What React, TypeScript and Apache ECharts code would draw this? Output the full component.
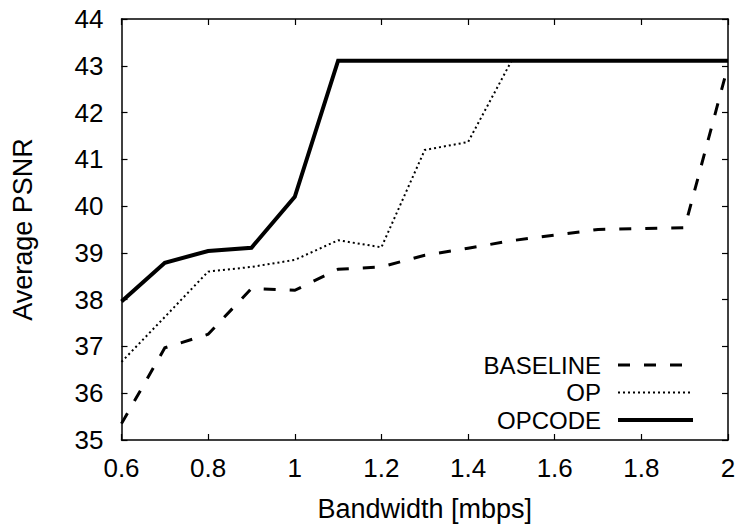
import React, { useEffect, useRef } from "react";
import * as echarts from "echarts";

const bandwidth = [0.6, 0.7, 0.8, 0.9, 1.0, 1.1, 1.2, 1.3, 1.4, 1.5, 1.6, 1.7, 1.8, 1.9, 2.0];
const baseline = [35.35, 36.97, 37.26, 38.24, 38.2, 38.65, 38.7, 38.95, 39.1, 39.26, 39.38, 39.5, 39.52, 39.54, 43.0];
const op = [36.67, 37.63, 38.6, 38.7, 38.85, 39.27, 39.12, 41.2, 41.37, 43.1, 43.1, 43.1, 43.1, 43.1, 43.1];
const opcode = [37.96, 38.79, 39.04, 39.11, 40.2, 43.11, 43.11, 43.11, 43.11, 43.11, 43.11, 43.11, 43.11, 43.11, 43.11];
const seriesNames = ["BASELINE", "OP", "OPCODE"];
const xTickLabels = ["0.6", "0.8", "1", "1.2", "1.4", "1.6", "1.8", "2"];
const xTitle = "Bandwidth [mbps]";
const yTitle = "Average PSNR";

const FONT = "Liberation Sans";
const FS = 26;
const FT = 27;
const FL = 24;

export default function App() {
  const ref = useRef<HTMLDivElement>(null);
  useEffect(() => {
    if (!ref.current) return;
    const chart = echarts.init(ref.current, null, { renderer: "svg" });
    const pair = (ys: number[]) => bandwidth.map((x, i) => [x, ys[i]]);
    const axisLine = { show: true, lineStyle: { color: "#000", width: 1.5 } };
    const tick = { show: true, inside: true, length: 6, lineStyle: { color: "#000", width: 1.2 } };
    const styles = [
      { type: [12, 14], width: 3 },
      { type: [2, 3], width: 2 },
      { type: "solid", width: 4 },
    ];
    const datasets = [baseline, op, opcode];
    const legendY = [365, 392.5, 420];
    const graphic: any[] = [];
    seriesNames.forEach((n, i) => {
      graphic.push({
        type: "text",
        x: 601,
        y: legendY[i],
        style: {
          text: n,
          fontFamily: FONT,
          fontSize: FL,
          lineHeight: 24,
          fill: "#000",
          align: "right",
          verticalAlign: "middle",
        },
      });
      graphic.push({
        type: "line",
        shape: { x1: 618, y1: legendY[i], x2: 693, y2: legendY[i] },
        style: { stroke: "#000", lineWidth: styles[i].width, lineDash: i === 2 ? null : (styles[i].type as number[]) },
      });
    });
    const option: any = {
      animation: false,
      backgroundColor: "#fff",
      grid: { left: 121.5, right: 13, top: 19, bottom: 87, containLabel: false },
      xAxis: [
        {
          type: "value",
          min: 0.6,
          max: 2,
          interval: 0.2,
          axisLine,
          axisTick: tick,
          splitLine: { show: false },
          axisLabel: {
            color: "#000",
            fontFamily: FONT,
            fontSize: FS,
            margin: 15,
            formatter: (v: number) => {
              const idx = Math.round((v - 0.6) / 0.2);
              return xTickLabels[idx] ?? "";
            },
          },
          name: xTitle,
          nameLocation: "middle",
          nameGap: 55,
          nameTextStyle: { color: "#000", fontFamily: FONT, fontSize: FT },
        },
        {
          type: "value",
          position: "top",
          min: 0.6,
          max: 2,
          interval: 0.2,
          axisLine,
          axisTick: tick,
          axisLabel: { show: false },
          splitLine: { show: false },
        },
      ],
      yAxis: [
        {
          type: "value",
          min: 35,
          max: 44,
          interval: 1,
          axisLine,
          axisTick: tick,
          splitLine: { show: false },
          axisLabel: { color: "#000", fontFamily: FONT, fontSize: FS, margin: 18 },
          name: yTitle,
          nameLocation: "middle",
          nameGap: 85,
          nameTextStyle: { color: "#000", fontFamily: FONT, fontSize: FT },
        },
        {
          type: "value",
          position: "right",
          min: 35,
          max: 44,
          interval: 1,
          axisLine,
          axisTick: tick,
          axisLabel: { show: false },
          splitLine: { show: false },
        },
      ],
      series: seriesNames.map((n, i) => ({
        name: n,
        type: "line",
        data: pair(datasets[i]),
        symbol: "none",
        lineStyle: { color: "#000", width: styles[i].width, type: styles[i].type, cap: "butt", join: "miter" },
        z: 2 + i,
      })),
      graphic,
    };
    chart.setOption(option);
    return () => chart.dispose();
  }, []);
  return <div ref={ref} style={{ width: 741, height: 527, position: "absolute", left: 0, top: 0 }} />;
}
